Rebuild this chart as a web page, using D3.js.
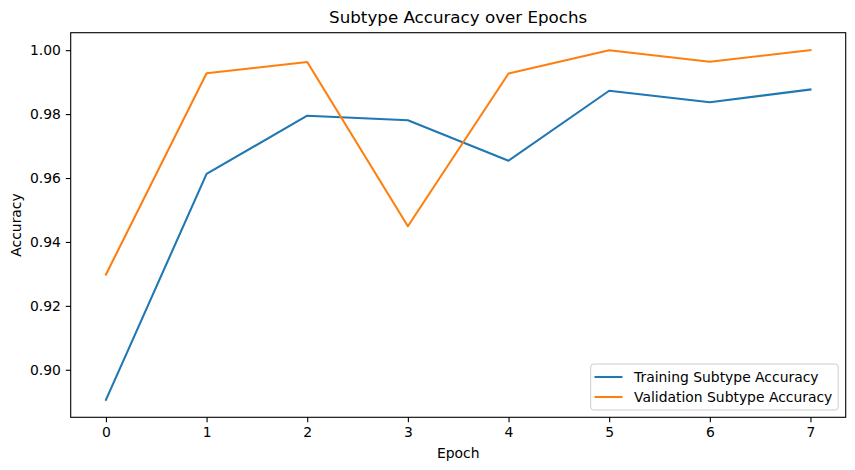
<!DOCTYPE html>
<html><head><meta charset="utf-8">
<script src="https://cdn.jsdelivr.net/npm/d3@7"></script>
<style>body{margin:0;background:#fff}text{font-family:"DejaVu Sans",sans-serif;fill:#000}</style>
</head><body>
<svg id="c" width="855" height="470"></svg>
<script>
const epochs = [0,1,2,3,4,5,6,7];
const trainAcc = [0.8906,0.9613,0.9795,0.9781,0.9654,0.9873,0.9837,0.9877];
const valAcc = [0.9298,0.9928,0.9963,0.9449,0.9927,1.0000,0.9964,1.0000];
const yTicks = [0.90,0.92,0.94,0.96,0.98,1.00];
const seriesNames = ["Training Subtype Accuracy","Validation Subtype Accuracy"];
const colors = ["#1f77b4","#ff7f0e"];

const L=70.7,R=845.7,T=32.7,B=417.3;
const svg=d3.select("#c");
const x=d3.scaleLinear().domain([-0.35,7.35]).range([L,R]);
const yMin=0.8906,yMax=1.0,pad=(yMax-yMin)*0.05;
const y=d3.scaleLinear().domain([yMin-pad,yMax+pad]).range([B,T]);

const xa=svg.append("g").attr("transform",`translate(0,${B})`)
  .call(d3.axisBottom(x).tickValues(epochs).tickFormat(d3.format("d")).tickSize(4.9).tickPadding(4.9));
const ya=svg.append("g").attr("transform",`translate(${L},0)`)
  .call(d3.axisLeft(y).tickValues(yTicks).tickFormat(d3.format(".2f")).tickSize(4.9).tickPadding(4.9));
[xa,ya].forEach(a=>{a.select(".domain").remove();a.selectAll("text").style("font-size","13.9px").attr("font-family","DejaVu Sans");a.selectAll("line").attr("stroke","#000").attr("stroke-width",1.1);});

svg.append("rect").attr("x",L).attr("y",T).attr("width",R-L).attr("height",B-T)
  .attr("fill","none").attr("stroke","#000").attr("stroke-width",1.1);

const line=d3.line().x((d,i)=>x(epochs[i])).y(d=>y(d));
[trainAcc,valAcc].forEach((s,k)=>{
  svg.append("path").datum(s).attr("d",line).attr("fill","none")
    .attr("stroke",colors[k]).attr("stroke-width",2.08).attr("stroke-linejoin","round").attr("stroke-linecap","square");
});

svg.append("text").attr("x",(L+R)/2).attr("y",23).attr("text-anchor","middle").style("font-size","16.7px").text("Subtype Accuracy over Epochs");
svg.append("text").attr("x",(L+R)/2).attr("y",458).attr("text-anchor","middle").style("font-size","13.9px").text("Epoch");
svg.append("text").attr("transform",`translate(21,${(T+B)/2}) rotate(-90)`).attr("text-anchor","middle").style("font-size","13.9px").text("Accuracy");

const lg=svg.append("g");
lg.append("rect").attr("x",590.7).attr("y",364).attr("width",247.5).attr("height",46).attr("rx",3)
  .attr("fill","#fff").attr("fill-opacity",0.8).attr("stroke","#ccc").attr("stroke-width",1);
seriesNames.forEach((n,k)=>{
  const yy=377+k*20;
  lg.append("line").attr("x1",594.5).attr("x2",622.5).attr("y1",yy).attr("y2",yy).attr("stroke",colors[k]).attr("stroke-width",2.08);
  lg.append("text").attr("x",634).attr("y",yy+5).style("font-size","13.9px").text(n);
});
</script>
</body></html>
